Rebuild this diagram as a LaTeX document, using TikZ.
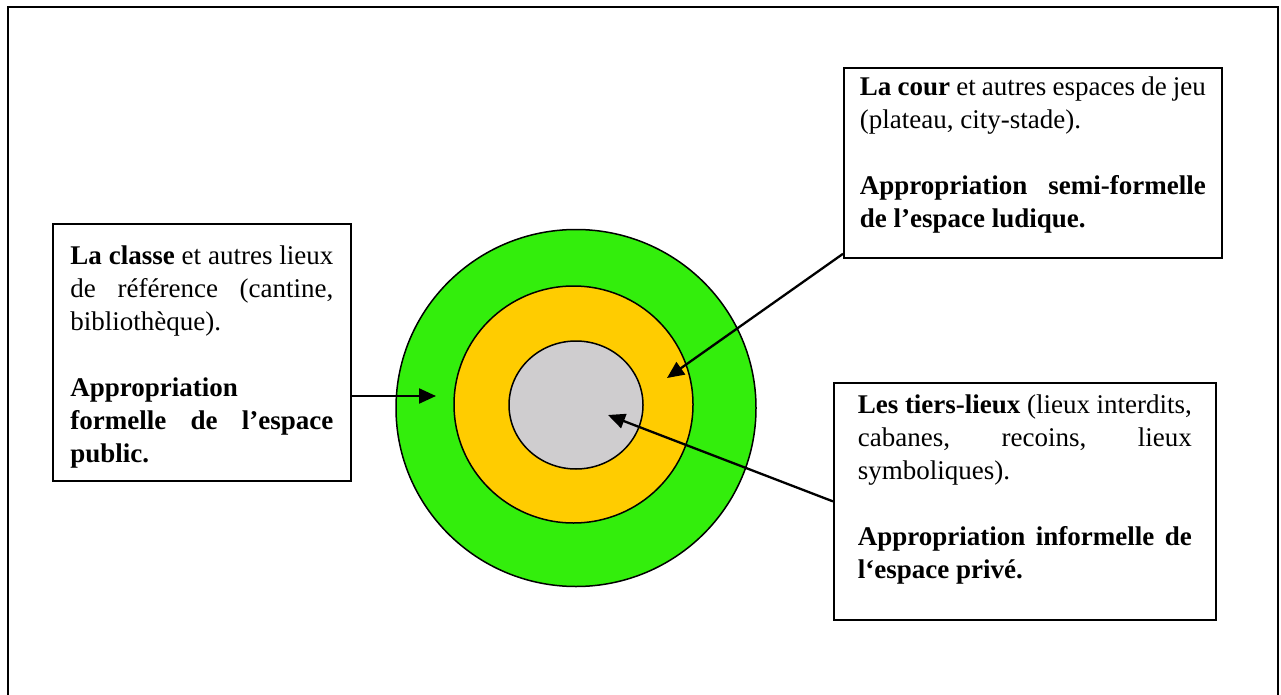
\documentclass[tikz,border=0pt]{standalone}
\usepackage{fontspec}
\setmainfont{Liberation Serif}
\usetikzlibrary{arrows.meta,shapes.geometric}
\definecolor{ringgreen}{RGB}{51,238,12}
\definecolor{ringorange}{RGB}{255,204,0}
\definecolor{ringgrey}{RGB}{207,205,207}

\begin{document}
\begin{tikzpicture}[x=1pt,y=-1pt,
    ring/.style={ellipse, draw, line width=1.5pt, inner sep=0pt},
    txtbox/.style={draw, line width=1.8pt, anchor=north west, align=justify,
      text height=19pt, font=\fontsize{27pt}{33pt}\selectfont},
    pointer/.style={-{Triangle[length=17pt,width=15pt]}, line width=2.3pt}]
    \useasboundingbox (0,0) rectangle (1281,695);
    \draw[line width=2.4pt] (8,696) -- (8,7) -- (1278,7) -- (1278,696);
    \node(outer)[ring, fill=ringgreen, minimum width=360pt, minimum height=357pt] at (576,408) {};
    \node(middle)[ring, fill=ringorange, minimum width=239pt, minimum height=237pt] at (573.5,404.5) {};
    \node(inner)[ring, fill=ringgrey, minimum width=134pt, minimum height=128pt] at (576,405) {};
    \node(classe)[txtbox, text width=263pt, inner xsep=17.5pt, inner ysep=22pt, text depth=194pt] at (52,223)
      {\textbf{La classe} et autres lieux\linebreak de référence (cantine,\linebreak bibliothèque).\par\vspace{33pt}%
       \textbf{Appropriation\linebreak formelle de l’espace\linebreak public.}};
    \node(cour)[txtbox, text width=346pt, inner xsep=16pt, inner ysep=9pt, text depth=153pt] at (843,67)
      {\textbf{La cour} et autres espaces de jeu\linebreak (plateau, city-stade).\par\vspace{33pt}%
       \textbf{Appropriation semi-formelle\linebreak de l’espace ludique.}};
    \node(tiers)[txtbox, text width=334pt, inner xsep=24pt, inner ysep=12pt, text depth=194pt] at (833,382)
      {\textbf{Les tiers-lieux} (lieux interdits,\linebreak cabanes, recoins, lieux\linebreak symboliques).\par\vspace{33pt}%
       \textbf{Appropriation informelle de\linebreak l‘espace privé.}};
    \coordinate(tipclasse) at (436,396);
    \coordinate(tipcour) at (667,378);
    \coordinate(tiptiers) at (608,415);
    \draw[pointer] (classe.east |- tipclasse) -- (tipclasse);
    \draw[pointer] ([yshift=5pt]cour.south west) -- (tipcour);
    \draw[pointer] (tiers.west) -- (tiptiers);
  \end{tikzpicture}
\end{document}
